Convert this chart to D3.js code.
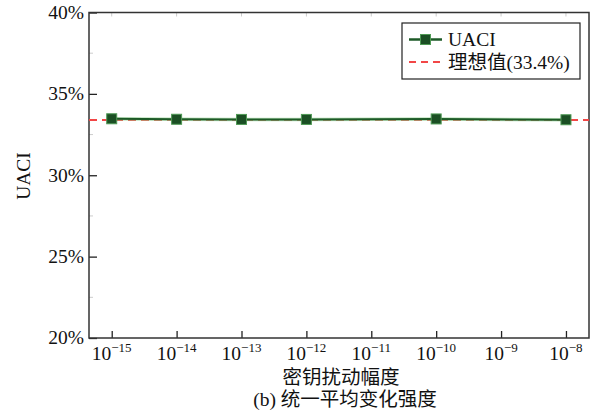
<!DOCTYPE html>
<html>
<head>
<meta charset="utf-8">
<script src="https://cdn.jsdelivr.net/npm/d3@7"></script>
<style>
  body { margin: 0; background: #fff; }
  text { font-family: "Liberation Serif", "Noto Sans CJK SC", serif; fill: #111; }
</style>
</head>
<body>
<div id="chart"></div>
<script>
// data
var perturb = [1e-15, 1e-14, 1e-13, 1e-12, 1e-10, 1e-8];
var uaci = [33.47, 33.44, 33.43, 33.43, 33.46, 33.41];
var ideal = 33.4;
var xTicks = [-15, -14, -13, -12, -11, -10, -9, -8];
var yTicks = [20, 25, 30, 35, 40];
var yMinor = [22.5, 27.5, 32.5, 37.5];

var width = 592, height = 417;
var pLeft = 89, pRight = 589, pTop = 12.5, pBottom = 338;
var fs = 19.5;

var svg = d3.select("#chart").append("svg")
    .attr("width", width)
    .attr("height", height);

var x = d3.scaleLog()
    .domain([Math.pow(10, -15.35), Math.pow(10, -7.645)])
    .range([pLeft, pRight]);
var y = d3.scaleLinear()
    .domain([20, 40])
    .range([pBottom, pTop]);

// faint ticks on top / minor on left
svg.append("g").selectAll("line").data(xTicks).enter().append("line")
    .attr("x1", function(d){ return x(Math.pow(10, d)); })
    .attr("x2", function(d){ return x(Math.pow(10, d)); })
    .attr("y1", pTop).attr("y2", pTop + 4)
    .attr("stroke", "#ccc");
svg.append("g").selectAll("line").data(yMinor).enter().append("line")
    .attr("x1", pLeft).attr("x2", pLeft + 4)
    .attr("y1", function(d){ return y(d); })
    .attr("y2", function(d){ return y(d); })
    .attr("stroke", "#ccc");

// bottom axis
var xAxis = d3.axisBottom(x)
    .tickValues(xTicks.map(function(d){ return Math.pow(10, d); }))
    .tickSizeInner(-7).tickSizeOuter(0)
    .tickFormat("");
var gx = svg.append("g")
    .attr("transform", "translate(0," + pBottom + ")")
    .call(xAxis);
gx.select(".domain").remove();
gx.selectAll(".tick line").attr("stroke", "#222").attr("stroke-width", 1.3);

var xLab = svg.append("g").selectAll("text").data(xTicks).enter().append("text")
    .attr("x", function(d){ return x(Math.pow(10, d)); })
    .attr("y", 360)
    .attr("text-anchor", "middle")
    .attr("font-size", fs);
xLab.append("tspan").text("10");
xLab.append("tspan")
    .attr("dy", -8)
    .attr("font-size", 13)
    .text(function(d){ return "\u2212" + Math.abs(d); });

// left axis
var yAxis = d3.axisLeft(y)
    .tickValues(yTicks)
    .tickSizeInner(-8).tickSizeOuter(0)
    .tickFormat(function(d){ return d + "%"; });
var gy = svg.append("g")
    .attr("transform", "translate(" + pLeft + ",0)")
    .call(yAxis);
gy.select(".domain").remove();
gy.selectAll(".tick line").attr("stroke", "#222").attr("stroke-width", 1.3);
gy.selectAll(".tick text")
    .attr("x", -5)
    .attr("font-size", fs)
    .attr("font-family", "Liberation Serif, serif")
    .attr("fill", "#111")
    .attr("dy", "0.3em");

// frame
svg.append("rect")
    .attr("x", pLeft).attr("y", pTop)
    .attr("width", pRight - pLeft).attr("height", pBottom - pTop)
    .attr("fill", "none")
    .attr("stroke", "#333")
    .attr("stroke-width", 1.5);

// ideal line
svg.append("line")
    .attr("x1", pLeft).attr("x2", pRight)
    .attr("y1", y(ideal)).attr("y2", y(ideal))
    .attr("stroke", "#f24646")
    .attr("stroke-width", 2)
    .attr("stroke-dasharray", "8,5");

// UACI series
var pts = perturb.map(function(p, i){ return [p, uaci[i]]; });
var line = d3.line()
    .x(function(d){ return x(d[0]); })
    .y(function(d){ return y(d[1]); });
svg.append("path")
    .datum(pts)
    .attr("d", line)
    .attr("fill", "none")
    .attr("stroke", "#8fcf8f")
    .attr("stroke-width", 3.5)
    .attr("opacity", 0.6);
svg.append("path")
    .datum(pts)
    .attr("d", line)
    .attr("fill", "none")
    .attr("stroke", "#1d5a27")
    .attr("stroke-width", 2);
svg.append("g").selectAll("rect").data(pts).enter().append("rect")
    .attr("x", function(d){ return x(d[0]) - 5; })
    .attr("y", function(d){ return y(d[1]) - 5; })
    .attr("width", 10).attr("height", 10)
    .attr("fill", "#1b4f24")
    .attr("stroke", "#4f9a55")
    .attr("stroke-width", 1);

// legend
var lg = svg.append("g");
lg.append("rect")
    .attr("x", 402).attr("y", 23)
    .attr("width", 178).attr("height", 56)
    .attr("fill", "#fff")
    .attr("stroke", "#222")
    .attr("stroke-width", 1.2);
lg.append("line")
    .attr("x1", 409).attr("x2", 442).attr("y1", 39.5).attr("y2", 39.5)
    .attr("stroke", "#1d5a27").attr("stroke-width", 2.5);
lg.append("rect")
    .attr("x", 420.5).attr("y", 34.5).attr("width", 10).attr("height", 10)
    .attr("fill", "#1b4f24").attr("stroke", "#4f9a55");
lg.append("text")
    .attr("x", 448).attr("y", 46)
    .attr("font-size", fs)
    .text("UACI");
lg.append("line")
    .attr("x1", 409).attr("x2", 442).attr("y1", 62).attr("y2", 62)
    .attr("stroke", "#f24646").attr("stroke-width", 2)
    .attr("stroke-dasharray", "7,5");
lg.append("text")
    .attr("x", 448).attr("y", 68.5)
    .attr("font-size", fs)
    .text("理想值(33.4%)");

// axis titles
svg.append("text")
    .attr("transform", "translate(30," + 176 + ") rotate(-90)")
    .attr("text-anchor", "middle")
    .attr("font-size", fs)
    .text("UACI");
svg.append("text")
    .attr("x", 341).attr("y", 384)
    .attr("text-anchor", "middle")
    .attr("font-size", fs)
    .text("密钥扰动幅度");
svg.append("text")
    .attr("x", 345).attr("y", 406)
    .attr("text-anchor", "middle")
    .attr("font-size", fs)
    .text("(b) 统一平均变化强度");
</script>
</body>
</html>
